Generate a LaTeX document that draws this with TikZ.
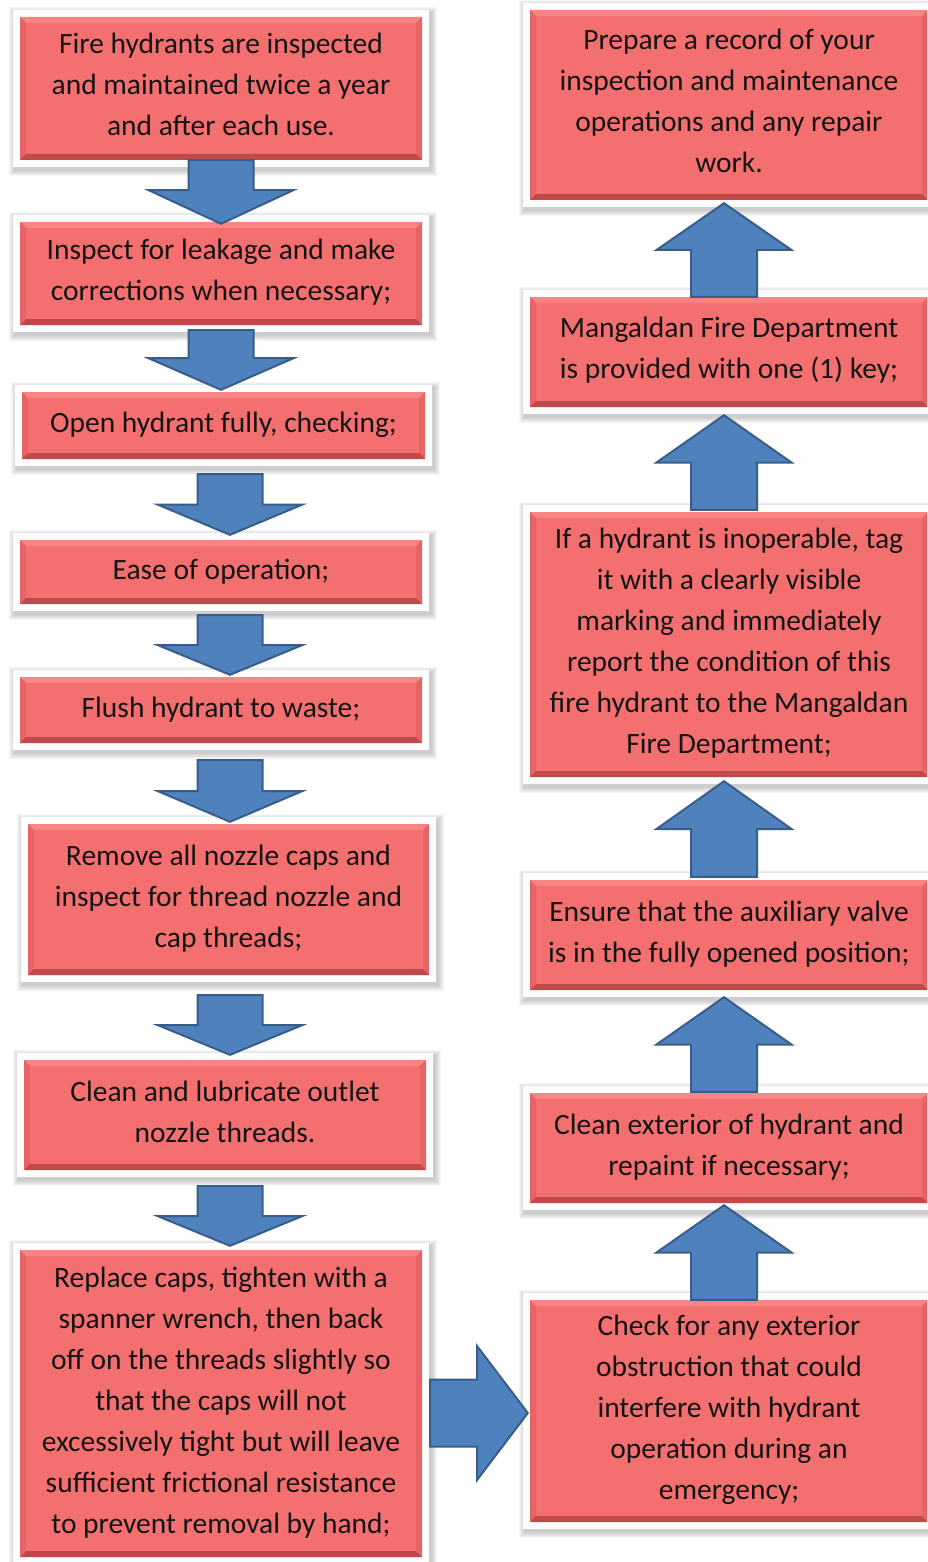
\documentclass[tikz,border=0pt]{standalone}
\usepackage{fontspec}
\setmainfont{Carlito}
\usetikzlibrary{calc,backgrounds}

\definecolor{boxred}{RGB}{244,112,112}
\definecolor{bevtop}{RGB}{249,132,132}
\definecolor{bevside}{RGB}{230,100,100}
\definecolor{bevbot}{RGB}{192,74,74}
\definecolor{arrowfill}{RGB}{79,129,189}
\definecolor{arrowline}{RGB}{56,93,138}
\definecolor{txt}{RGB}{20,20,20}

% block arrow: tail, tip, half shaft width, half head width, head-base fraction
\newcommand\blockarrow[5]{%
  \coordinate (ba-m) at ($(#1)!#5!(#2)$);
  \draw[arrowbody]
    ($(#1)!#3!90:(#2)$) -- ($(ba-m)!#3!90:(#2)$) -- ($(ba-m)!#4!90:(#2)$) -- (#2)
    -- ($(ba-m)!#4!-90:(#2)$) -- ($(ba-m)!#3!-90:(#2)$) -- ($(#1)!#3!-90:(#2)$) -- cycle;}

\tikzset{
  stepbox/.style={
    fill=boxred, inner sep=0pt, align=center, text=txt,
    font=\fontsize{29.5}{41}\selectfont,
    execute at begin node={\rule{0pt}{22pt}},
    execute at end node={\rule[-7.5pt]{0pt}{7.5pt}},
    path picture={
      \coordinate (pnw) at (path picture bounding box.north west);
      \coordinate (pne) at (path picture bounding box.north east);
      \coordinate (psw) at (path picture bounding box.south west);
      \coordinate (pse) at (path picture bounding box.south east);
      \fill[bevtop] (pnw) -- (pne) -- ($(pne)+(-6,6)$) -- ($(pnw)+(6,6)$) -- cycle;
      \fill[bevside] (pnw) -- (psw) -- ($(psw)+(6,-6)$) -- ($(pnw)+(6,6)$) -- cycle;
      \fill[bevside] (pne) -- (pse) -- ($(pse)+(-6,-6)$) -- ($(pne)+(-6,6)$) -- cycle;
      \fill[bevbot] (psw) -- (pse) -- ($(pse)+(-6,-6)$) -- ($(psw)+(6,-6)$) -- cycle;
    }},
  arrowbody/.style={fill=arrowfill, draw=arrowline, line width=2pt, line join=miter}
}

\begin{document}
\begin{tikzpicture}[x=1pt,y=-1pt]
\useasboundingbox (0,0) rectangle (927,1562);
\clip (0,0) rectangle (927,1562);

% left column
\node[stepbox, minimum width=402, minimum height=143] (L1) at (221,88.5)
  {Fire hydrants are inspected\\and maintained twice a year\\and after each use.};
\node[stepbox, minimum width=402, minimum height=103] (L2) at (221,273.5)
  {Inspect for leakage and make\\corrections when necessary;};
\node[stepbox, minimum width=403, minimum height=67] (L3) at (223.5,425.5)
  {Open hydrant fully, checking;};
\node[stepbox, minimum width=402, minimum height=64] (L4) at (221,572)
  {Ease of operation;};
\node[stepbox, minimum width=402, minimum height=66] (L5) at (221,710)
  {Flush hydrant to waste;};
\node[stepbox, minimum width=401, minimum height=151] (L6) at (228.5,899.5)
  {Remove all nozzle caps and\\inspect for thread nozzle and\\cap threads;};
\node[stepbox, minimum width=402, minimum height=110] (L7) at (225,1115)
  {Clean and lubricate outlet\\nozzle threads.};
\node[stepbox, minimum width=402, minimum height=307] (L8) at (221,1403.5)
  {Replace caps, tighten with a\\spanner wrench, then back\\off on the threads slightly so\\that the caps will not\\excessively tight but will leave\\sufficient frictional resistance\\to prevent removal by hand;};

% right column
\node[stepbox, minimum width=398, minimum height=190] (R1) at (729,105)
  {Prepare a record of your\\inspection and maintenance\\operations and any repair\\work.};
\node[stepbox, minimum width=398, minimum height=110] (R2) at (729,352)
  {Mangaldan Fire Department\\is provided with one (1) key;};
\node[stepbox, minimum width=398, minimum height=265] (R3) at (729,644.5)
  {If a hydrant is inoperable, tag\\it with a clearly visible\\marking and immediately\\report the condition of this\\fire hydrant to the Mangaldan\\Fire Department;};
\node[stepbox, minimum width=398, minimum height=110] (R4) at (729,935)
  {Ensure that the auxiliary valve\\is in the fully opened position;};
\node[stepbox, minimum width=398, minimum height=110] (R5) at (729,1148)
  {Clean exterior of hydrant and\\repaint if necessary;};
\node[stepbox, minimum width=398, minimum height=222] (R6) at (729,1411)
  {Check for any exterior\\obstruction that could\\interfere with hydrant\\operation during an\\emergency;};

% white frames with soft shadows
\begin{scope}[on background layer]
  \foreach \nm in {L1,L2,L3,L4,L5,L6,L7,L8,R1,R2,R3,R4,R5,R6} {
    \foreach \k in {1,...,6}
      \fill[black, opacity=0.035]
        ($(\nm.north west)+(-7-\k+2,-7-\k+3)$) rectangle ($(\nm.south east)+(7+\k+2,7+\k+3)$);
    \fill[white] ($(\nm.north west)+(-7,-7)$) rectangle ($(\nm.south east)+(7,7)$);
  }
\end{scope}

% arrow axes
\coordinate (axA) at (221,0);
\coordinate (axB) at (230,0);
\coordinate (axR) at (724,0);

% downward arrows, left column
\coordinate (a1s) at (axA |- L1.south);  \coordinate (a1t) at ($(axA |- L2.north)+(0,2)$);
\coordinate (a2s) at ($(axA |- L2.south)+(0,5)$);  \coordinate (a2t) at ($(axA |- L3.north)+(0,-2)$);
\coordinate (a3s) at ($(axB |- L3.south)+(0,15)$); \coordinate (a3t) at ($(axB |- L4.north)+(0,-5)$);
\coordinate (a4s) at ($(axB |- L4.south)+(0,11)$); \coordinate (a4t) at ($(axB |- L5.north)+(0,-2)$);
\coordinate (a5s) at ($(axB |- L5.south)+(0,17)$); \coordinate (a5t) at ($(axB |- L6.north)+(0,-2)$);
\coordinate (a6s) at ($(axB |- L6.south)+(0,20)$); \coordinate (a6t) at ($(axB |- L7.north)+(0,-5)$);
\coordinate (a7s) at ($(axB |- L7.south)+(0,16)$); \coordinate (a7t) at ($(axB |- L8.north)+(0,-4)$);
\blockarrow{a1s}{a1t}{32.5pt}{72.5pt}{0.47}
\blockarrow{a2s}{a2t}{32.5pt}{72.5pt}{0.47}
\blockarrow{a3s}{a3t}{32.5pt}{72.5pt}{0.5}
\blockarrow{a4s}{a4t}{32.5pt}{72.5pt}{0.5}
\blockarrow{a5s}{a5t}{32.5pt}{72.5pt}{0.5}
\blockarrow{a6s}{a6t}{32.5pt}{72.5pt}{0.5}
\blockarrow{a7s}{a7t}{32.5pt}{72.5pt}{0.5}

% across to the right column
\coordinate (hs) at ($(L8.east)+(8,9.5)$);
\coordinate (ht) at ($(hs -| R6.west)+(-2,0)$);
\blockarrow{hs}{ht}{33.5pt}{67pt}{0.48}

% upward arrows, right column
\coordinate (u1s) at (axR |- R2.north); \coordinate (u1t) at ($(axR |- R1.south)+(0,3)$);
\coordinate (u2s) at ($(axR |- R3.north)+(0,-2)$); \coordinate (u2t) at ($(axR |- R2.south)+(0,8)$);
\coordinate (u3s) at ($(axR |- R4.north)+(0,-3)$); \coordinate (u3t) at ($(axR |- R3.south)+(0,4)$);
\coordinate (u4s) at ($(axR |- R5.north)+(0,-1)$); \coordinate (u4t) at ($(axR |- R4.south)+(0,7)$);
\coordinate (u5s) at (axR |- R6.north); \coordinate (u5t) at ($(axR |- R5.south)+(0,2)$);
\blockarrow{u1s}{u1t}{33pt}{67.5pt}{0.5}
\blockarrow{u2s}{u2t}{33pt}{67.5pt}{0.5}
\blockarrow{u3s}{u3t}{33pt}{67.5pt}{0.5}
\blockarrow{u4s}{u4t}{33pt}{67.5pt}{0.5}
\blockarrow{u5s}{u5t}{33pt}{67.5pt}{0.5}
\end{tikzpicture}
\end{document}
